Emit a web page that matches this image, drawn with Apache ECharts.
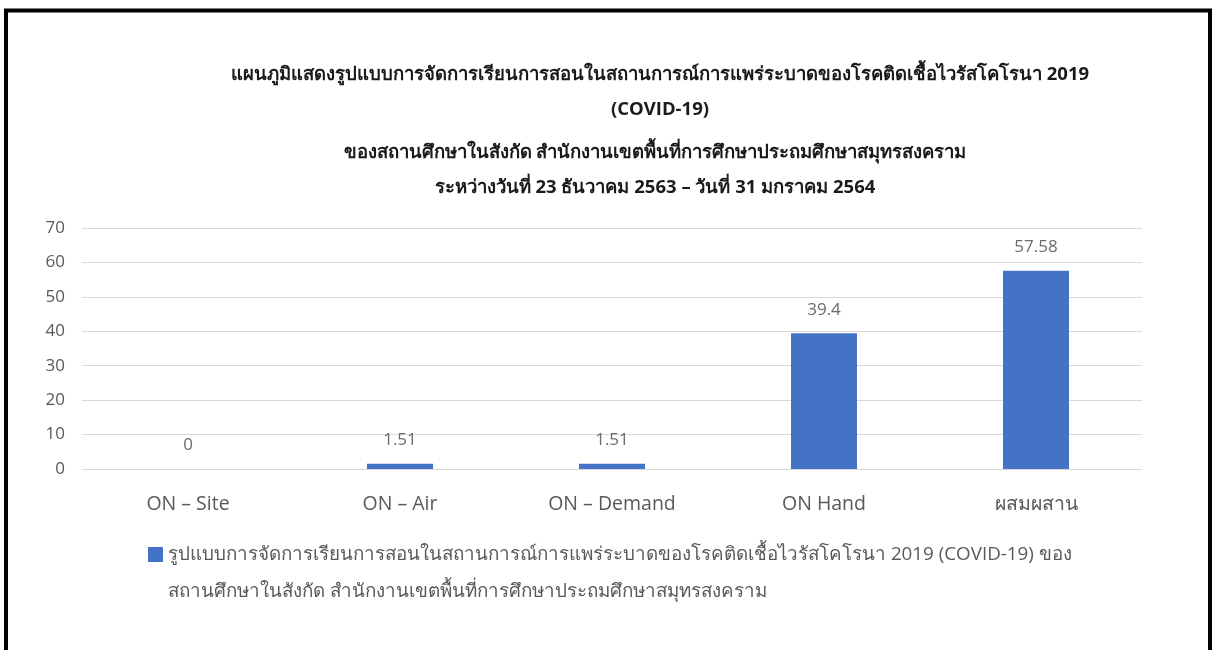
<!DOCTYPE html>
<html>
<head>
<meta charset="utf-8">
<script src="https://cdn.jsdelivr.net/npm/echarts@6/dist/echarts.min.js"></script>
<style>
html,body{margin:0;padding:0;background:#fff;}
#chart{width:1212px;height:650px;}
</style>
</head>
<body>
<div id="chart"></div>
<script>
const categories = ['ON – Site', 'ON – Air', 'ON – Demand', 'ON Hand', 'ผสมผสาน'];
const values = [0, 1.51, 1.51, 39.4, 57.58];
const yTicks = [0, 10, 20, 30, 40, 50, 60, 70];
const titleLines1 = 'แผนภูมิแสดงรูปแบบการจัดการเรียนการสอนในสถานการณ์การแพร่ระบาดของโรคติดเชื้อไวรัสโคโรนา 2019\n(COVID-19)';
const titleLines2 = 'ของสถานศึกษาในสังกัด สำนักงานเขตพื้นที่การศึกษาประถมศึกษาสมุทรสงคราม\nระหว่างวันที่ 23 ธันวาคม 2563 – วันที่ 31 มกราคม 2564';
const seriesName = 'รูปแบบการจัดการเรียนการสอนในสถานการณ์การแพร่ระบาดของโรคติดเชื้อไวรัสโคโรนา 2019 (COVID-19) ของสถานศึกษาในสังกัด สำนักงานเขตพื้นที่การศึกษาประถมศึกษาสมุทรสงคราม';
const legendLine1 = 'รูปแบบการจัดการเรียนการสอนในสถานการณ์การแพร่ระบาดของโรคติดเชื้อไวรัสโคโรนา 2019 (COVID-19) ของ';
const legendLine2 = 'สถานศึกษาในสังกัด สำนักงานเขตพื้นที่การศึกษาประถมศึกษาสมุทรสงคราม';

const FONT = '"Open Sans", "Noto Sans", sans-serif';
const chart = echarts.init(document.getElementById('chart'), null, {renderer: 'canvas'});
chart.setOption({
  backgroundColor: '#fff',
  animation: false,
  title: [
    {text: titleLines1, left: 655, top: 52, textAlign: 'center',
     textStyle: {fontSize: 18.5, fontWeight: 'bold', color: '#1a1a1a', lineHeight: 35, fontFamily: FONT}},
    {text: titleLines2, left: 650, top: 130, textAlign: 'center',
     textStyle: {fontSize: 18.5, fontWeight: 'bold', color: '#1a1a1a', lineHeight: 35, fontFamily: FONT}}
  ],
  graphic: [
    {type: 'polyline', shape: {points: [[6, 660], [6, 10.5], [1210, 10.5], [1210, 660]]},
     style: {stroke: '#000', lineWidth: 4, fill: null}}
  ],
  grid: {left: 82, right: 70, top: 228, bottom: 181, containLabel: false},
  legend: {
    show: true,
    left: 148, top: 499,
    padding: 0,
    itemWidth: 15, itemHeight: 15, itemGap: 8,
    icon: 'rect',
    data: [seriesName],
    formatter: function () { return ' \n' + legendLine1 + '\n' + legendLine2; },
    textStyle: {fontSize: 18.8, color: '#595959', lineHeight: 37, fontFamily: FONT}
  },
  xAxis: {
    type: 'category',
    data: categories,
    axisLine: {show: true, lineStyle: {color: '#d9d9d9', width: 1}},
    axisTick: {show: false},
    axisLabel: {fontSize: 19.5, color: '#595959', margin: 25, fontFamily: FONT}
  },
  yAxis: {
    type: 'value',
    min: yTicks[0], max: yTicks[yTicks.length - 1], interval: 10,
    axisLine: {show: false},
    axisTick: {show: false},
    splitLine: {lineStyle: {color: '#d9d9d9', width: 1}},
    axisLabel: {fontSize: 17, color: '#595959', margin: 17, fontFamily: FONT}
  },
  series: [{
    name: seriesName,
    type: 'bar',
    data: values,
    barWidth: 66,
    itemStyle: {color: '#4472C4'},
    label: {show: true, position: 'top', distance: 15, fontSize: 17, color: '#6b6b6b', fontFamily: FONT}
  }]
});
</script>
</body>
</html>
